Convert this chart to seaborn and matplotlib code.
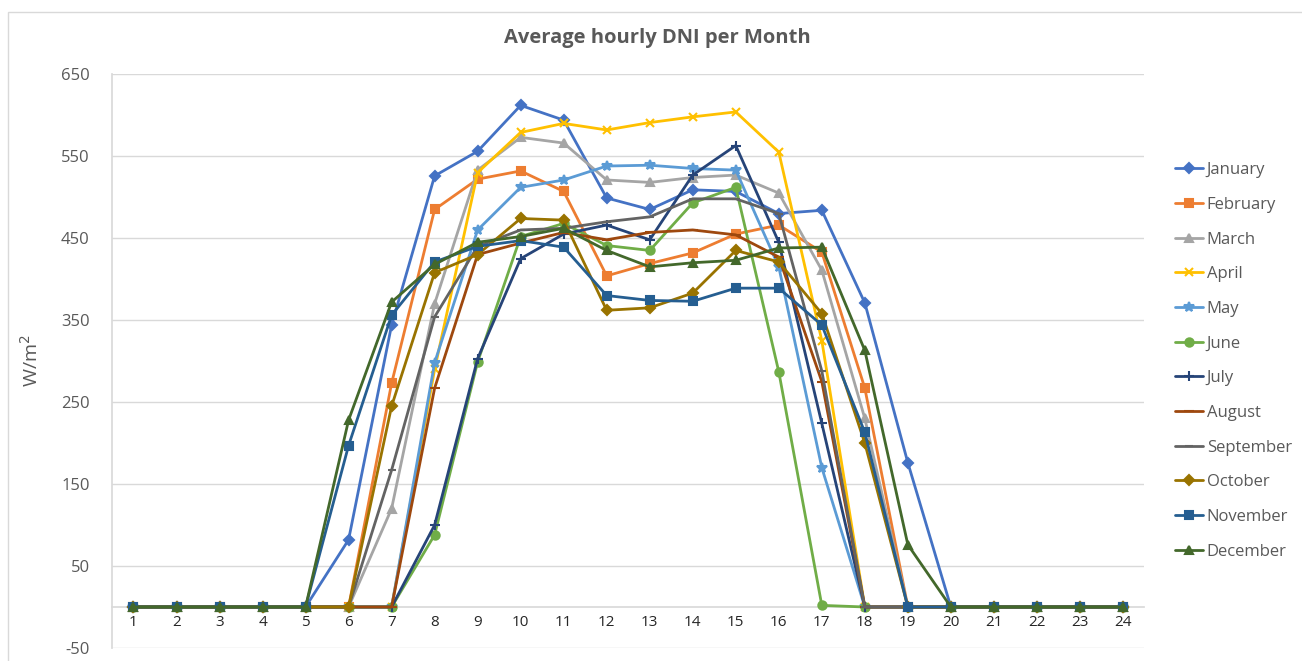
import matplotlib
matplotlib.use("Agg")
import matplotlib.pyplot as plt
import seaborn as sns
import pandas as pd
from matplotlib.patches import Rectangle

hours = list(range(1, 25))
months = ["January", "February", "March", "April", "May", "June", "July",
          "August", "September", "October", "November", "December"]

january = [0, 0, 0, 0, 0, 82, 344, 526, 556, 612, 594, 499, 485, 509, 507, 480, 484, 371, 176, 0, 0, 0, 0, 0]
february = [0, 0, 0, 0, 0, 0, 273, 485, 522, 532, 507, 404, 419, 432, 455, 466, 433, 267, 0, 0, 0, 0, 0, 0]
march = [0, 0, 0, 0, 0, 0, 120, 370, 533, 573, 566, 521, 518, 524, 527, 505, 411, 230, 0, 0, 0, 0, 0, 0]
april = [0, 0, 0, 0, 0, 0, 0, 290, 530, 579, 590, 582, 591, 598, 604, 555, 325, 0, 0, 0, 0, 0, 0, 0]
may = [0, 0, 0, 0, 0, 0, 0, 298, 460, 512, 521, 538, 539, 535, 533, 415, 170, 0, 0, 0, 0, 0, 0, 0]
june = [0, 0, 0, 0, 0, 0, 0, 88, 299, 452, 468, 441, 435, 493, 512, 287, 2, 0, 0, 0, 0, 0, 0, 0]
july = [0, 0, 0, 0, 0, 0, 0, 100, 303, 425, 455, 466, 448, 527, 563, 445, 224, 0, 0, 0, 0, 0, 0, 0]
august = [0, 0, 0, 0, 0, 0, 0, 267, 430, 444, 457, 448, 457, 460, 454, 427, 275, 0, 0, 0, 0, 0, 0, 0]
september = [0, 0, 0, 0, 0, 0, 167, 354, 440, 460, 462, 470, 476, 498, 498, 480, 288, 0, 0, 0, 0, 0, 0, 0]
october = [0, 0, 0, 0, 0, 0, 245, 408, 430, 474, 472, 362, 365, 383, 435, 421, 358, 200, 0, 0, 0, 0, 0, 0]
november = [0, 0, 0, 0, 0, 197, 356, 421, 440, 447, 439, 380, 374, 373, 389, 389, 344, 213, 0, 0, 0, 0, 0, 0]
december = [0, 0, 0, 0, 0, 228, 372, 418, 445, 452, 462, 435, 415, 420, 423, 438, 439, 313, 76, 0, 0, 0, 0, 0]

series = [january, february, march, april, may, june, july, august,
          september, october, november, december]

colors = ["#4472C4", "#ED7D31", "#A5A5A5", "#FFC000", "#5B9BD5", "#70AD47",
          "#264478", "#9E480E", "#636363", "#997300", "#255E91", "#43682B"]
markers = ["D", "s", "^", "x", "*", "o", "+", "_", "_", "D", "s", "^"]
sizes = [5, 6, 6, 6, 7, 6, 7, 7, 6, 5, 6, 6]

y_ticks = [-50, 50, 150, 250, 350, 450, 550, 650]

rows = []
for m, vals in zip(months, series):
    for h, v in zip(hours, vals):
        rows.append({"Hour": h, "DNI": v, "Month": m})
df = pd.DataFrame(rows)

sns.set_theme(style="white")
plt.rcParams["font.family"] = ["Open Sans", "DejaVu Sans"]
plt.rcParams["axes.unicode_minus"] = False

fig = plt.figure(figsize=(13.02, 6.61), dpi=100)
ax = fig.add_axes([0.086, 0.0197, 0.793, 0.868])

# outer chart border
fig.patches.append(Rectangle((0.006, -0.01), 1.0, 0.992, transform=fig.transFigure,
                             fill=False, edgecolor="#D9D9D9", linewidth=1.0))

for i, m in enumerate(months):
    sub = df[df["Month"] == m]
    sns.lineplot(data=sub, x="Hour", y="DNI", ax=ax, color=colors[i],
                 marker=markers[i], markersize=sizes[i], markeredgewidth=1.5,
                 markeredgecolor=colors[i], linewidth=2.0, label=m,
                 errorbar=None, zorder=3)

ax.set_xlim(0.5, 24.5)
ax.set_ylim(-50, 650)
ax.set_yticks(y_ticks)
ax.set_xticks(hours)
ax.set_xticklabels([str(h) for h in hours], fontsize=7, color="#7F7F7F")
ax.tick_params(axis="y", labelsize=12, colors="#595959", length=0, pad=16)
ax.tick_params(axis="x", length=0, pad=6)
ax.yaxis.grid(True, color="#D9D9D9", linewidth=1.0)
ax.xaxis.grid(False)

for s in ["top", "right"]:
    ax.spines[s].set_visible(False)
ax.spines["left"].set_color("#D9D9D9")
ax.spines["bottom"].set_position(("data", 0))
ax.spines["bottom"].set_color("#D9D9D9")

ax.set_xlabel("")
ax.set_ylabel("W/m$^2$", fontsize=14, color="#595959", labelpad=14)

fig.text(0.505, 0.942, "Average hourly DNI per Month", ha="center", va="center",
         fontsize=14.5, fontweight="bold", color="#595959")

leg = ax.legend(loc="center left", bbox_to_anchor=(0.891, 0.454),
                bbox_transform=fig.transFigure, frameon=False, fontsize=12,
                handlelength=1.7, handletextpad=0.2, labelspacing=1.12)
for t in leg.get_texts():
    t.set_color("#595959")

fig.savefig("out.png", dpi=100)
